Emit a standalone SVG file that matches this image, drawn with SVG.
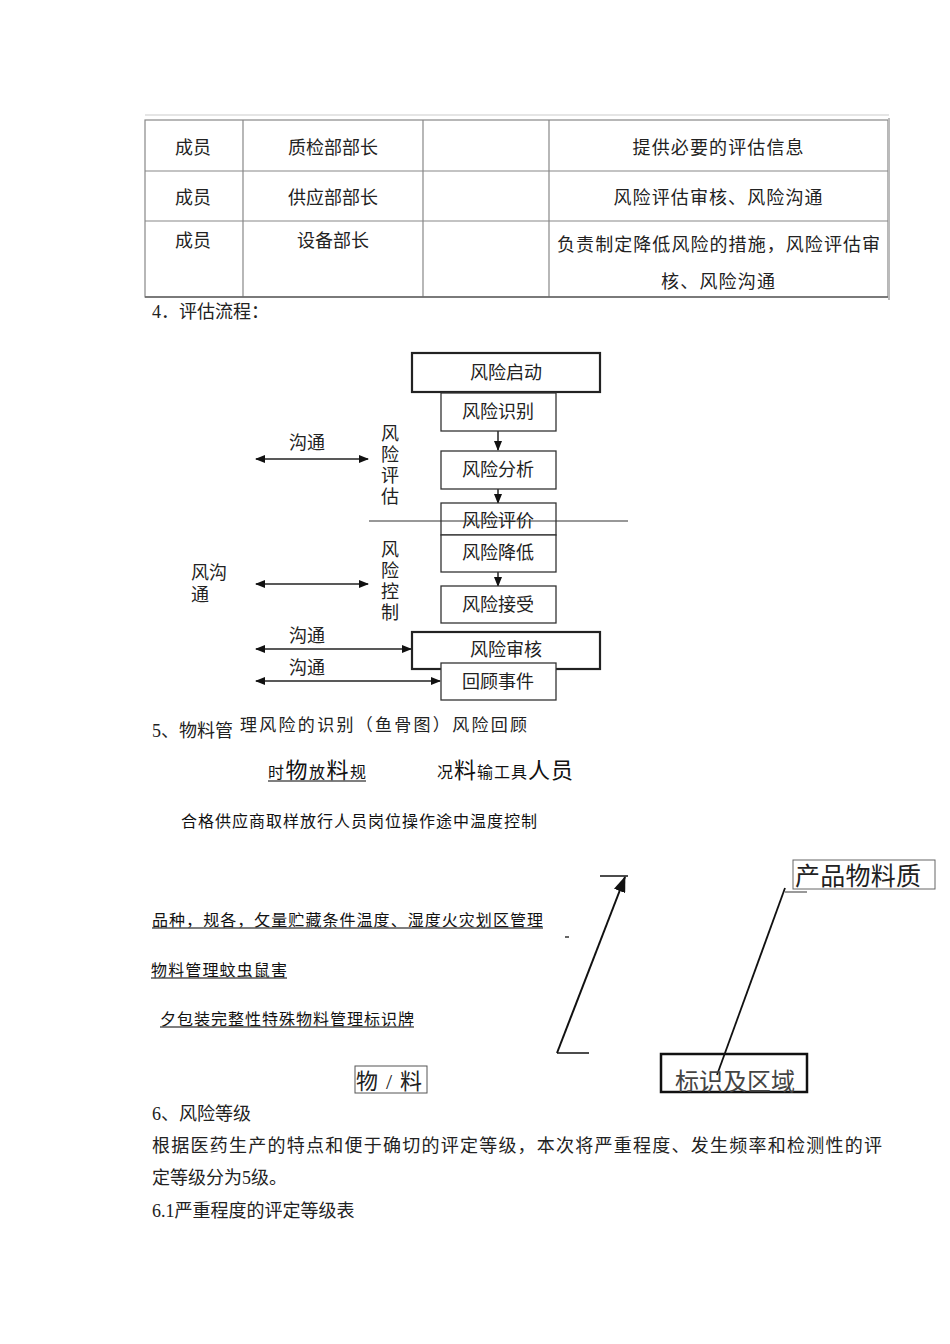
<svg xmlns="http://www.w3.org/2000/svg" width="950" height="1344" viewBox="0 0 950 1344">
<style>
.t{font-family:"Liberation Serif","Noto Sans CJK SC",sans-serif;font-size:18px;fill:#222}
.s{font-family:"Liberation Sans","Noto Sans CJK SC",sans-serif;fill:#111}
.c{text-anchor:middle}
.box{fill:#fff;stroke:#333;stroke-width:1.3}
.tbox{fill:#fff;stroke:#222;stroke-width:2.2}
.grid{stroke:#888;stroke-width:1.2;fill:none}
.ln{stroke:#222;stroke-width:1.5;fill:none}
.ul{stroke:#555;stroke-width:1.3}
</style>
<defs>
<marker id="ah" markerWidth="10" markerHeight="8" refX="9" refY="4" orient="auto" markerUnits="userSpaceOnUse">
<path d="M0,0 L10,4 L0,8 z" fill="#111"/>
</marker>
<marker id="ahs" markerWidth="10" markerHeight="8" refX="1" refY="4" orient="auto" markerUnits="userSpaceOnUse">
<path d="M10,0 L0,4 L10,8 z" fill="#111"/>
</marker>
<marker id="ahb" markerWidth="16" markerHeight="12" refX="15" refY="6" orient="auto" markerUnits="userSpaceOnUse">
<path d="M0,0 L16,6 L0,12 z" fill="#111"/>
</marker>
</defs>
<rect width="950" height="1344" fill="#fff"/>

<!-- Table -->
<g id="table">
<line x1="145" y1="115" x2="889" y2="115" stroke="#ddd" stroke-width="1.5"/>
<rect x="145" y="120" width="743" height="177" class="grid"/>
<line x1="889" y1="118" x2="889" y2="300" stroke="#bbb" stroke-width="2"/>
<line x1="145" y1="171" x2="888" y2="171" class="grid"/>
<line x1="145" y1="221" x2="888" y2="221" class="grid"/>
<line x1="243" y1="120" x2="243" y2="297" class="grid"/>
<line x1="423" y1="120" x2="423" y2="297" class="grid"/>
<line x1="549" y1="120" x2="549" y2="297" class="grid"/>
<line x1="145" y1="297" x2="888" y2="297" stroke="#666" stroke-width="1.5"/>
<text class="t c" x="193" y="154">成员</text>
<text class="t c" x="333" y="154">质检部部长</text>
<text class="t c" x="718" y="154" textLength="171">提供必要的评估信息</text>
<text class="t c" x="193" y="204">成员</text>
<text class="t c" x="333" y="204">供应部部长</text>
<text class="t c" x="718" y="204" textLength="209">风险评估审核、风险沟通</text>
<text class="t c" x="193" y="247">成员</text>
<text class="t c" x="333" y="247">设备部长</text>
<text class="t" x="557" y="251" textLength="323">负责制定降低风险的措施，风险评估审</text>
<text class="t c" x="718" y="288" textLength="114">核、风险沟通</text>
</g>

<text class="t" x="152" y="318">4．评估流程：</text>

<!-- Flowchart connectors -->
<g id="connectors">
<line x1="498" y1="431" x2="498" y2="450" class="ln" marker-end="url(#ah)"/>
<line x1="498" y1="489" x2="498" y2="503" class="ln" marker-end="url(#ah)"/>
<line x1="498" y1="572" x2="498" y2="586" class="ln" marker-end="url(#ah)"/>
<line x1="256" y1="459" x2="368" y2="459" class="ln" marker-start="url(#ahs)" marker-end="url(#ah)"/>
<line x1="256" y1="584" x2="368" y2="584" class="ln" marker-start="url(#ahs)" marker-end="url(#ah)"/>
<line x1="256" y1="649" x2="411" y2="649" class="ln" marker-start="url(#ahs)" marker-end="url(#ah)"/>
<line x1="256" y1="681" x2="440" y2="681" class="ln" marker-start="url(#ahs)" marker-end="url(#ah)"/>
</g>

<g id="n-start"><rect x="412" y="353" width="188" height="39" class="tbox"/><text class="t c" x="506" y="379">风险启动</text></g>
<g id="n-identify"><rect x="441" y="393" width="115" height="38" class="box"/><text class="t c" x="498" y="418">风险识别</text></g>
<g id="n-analyze"><rect x="441" y="451" width="115" height="38" class="box"/><text class="t c" x="498" y="476">风险分析</text></g>
<g id="n-evaluate"><rect x="441" y="503" width="115" height="32" class="box"/><text class="t c" x="498" y="527">风险评价</text></g>
<line x1="369" y1="521" x2="628" y2="521" stroke="#333" stroke-width="1.2"/>
<g id="n-reduce"><rect x="441" y="535" width="115" height="37" class="box"/><text class="t c" x="498" y="559">风险降低</text></g>
<g id="n-accept"><rect x="441" y="586" width="115" height="37" class="box"/><text class="t c" x="498" y="611">风险接受</text></g>
<g id="n-review"><rect x="412" y="632" width="188" height="37" class="tbox"/><text class="t c" x="506" y="656">风险审核</text></g>
<g id="n-event"><rect x="441" y="663" width="115" height="37" class="box"/><text class="t c" x="498" y="688">回顾事件</text></g>

<g id="labels-left">
<text class="t c" x="307" y="449">沟通</text>
<text class="t c" x="390" y="440">风</text>
<text class="t c" x="390" y="461">险</text>
<text class="t c" x="390" y="482">评</text>
<text class="t c" x="390" y="503">估</text>
<text class="t" x="191" y="579">风沟</text>
<text class="t" x="191" y="601">通</text>
<text class="t c" x="390" y="556">风</text>
<text class="t c" x="390" y="577">险</text>
<text class="t c" x="390" y="598">控</text>
<text class="t c" x="390" y="619">制</text>
<text class="t c" x="307" y="642">沟通</text>
<text class="t c" x="307" y="674">沟通</text>
</g>

<!-- Fishbone section -->
<text class="t" x="152" y="737">5、物料管</text>
<text class="t" x="240" y="731" style="font-size:17px" textLength="287">理风险的识别（鱼骨图）风险回顾</text>

<g id="fish-top">
<text class="s" x="268" y="778" style="font-size:16px" textLength="98">时<tspan style="font-size:22px">物</tspan>放<tspan style="font-size:22px">料</tspan>规</text>
<line x1="268" y1="781" x2="366" y2="781" class="ul"/>
<text class="s" x="437" y="778" style="font-size:16px" textLength="136">况<tspan style="font-size:22px">料</tspan>输工具<tspan style="font-size:22px">人员</tspan></text>
<text class="s" x="181" y="827" style="font-size:16px" textLength="356">合格供应商取样放行人员岗位操作途中温度控制</text>
</g>

<g id="fish-mid">
<text class="s" x="152" y="926" style="font-size:16px" textLength="391">品种，规各，攵量贮藏条件温度、湿度火灾划区管理</text>
<line x1="152" y1="928" x2="543" y2="928" class="ul"/>
<text class="s" x="151" y="976" style="font-size:16px" textLength="136">物料管理蚊虫鼠害</text>
<line x1="151" y1="978" x2="287" y2="978" class="ul"/>
<text class="s" x="160" y="1025" style="font-size:16px" textLength="254">夕包装完整性特殊物料管理标识牌</text>
<line x1="160" y1="1027" x2="414" y2="1027" class="ul"/>
<line x1="565" y1="937" x2="569" y2="937" stroke="#333" stroke-width="1.5"/>
</g>

<g id="fish-arrows">
<line x1="557" y1="1053" x2="625" y2="877" stroke="#111" stroke-width="2" marker-end="url(#ahb)"/>
<line x1="600" y1="876" x2="628" y2="876" stroke="#111" stroke-width="1.5"/>
<line x1="557" y1="1053" x2="589" y2="1053" stroke="#111" stroke-width="1.5"/>
<line x1="717" y1="1075" x2="785" y2="888" stroke="#111" stroke-width="1.8"/>
<line x1="785" y1="892" x2="807" y2="892" stroke="#777" stroke-width="1.5"/>
</g>

<g id="n-material"><rect x="355" y="1066" width="72" height="27" fill="#fff" stroke="#555" stroke-width="1"/><text class="t" x="356" y="1089" style="font-size:22px" textLength="66">物/料</text></g>
<g id="n-label"><rect x="661" y="1054" width="146" height="38" fill="none" stroke="#111" stroke-width="2.5"/><text class="t" x="675" y="1090" style="font-size:24px;fill:#444" textLength="120">标识及区域</text></g>
<g id="n-quality"><rect x="793" y="860" width="142" height="29" fill="#fff" stroke="#666" stroke-width="1"/><text class="t" x="795" y="885" style="font-size:25px" textLength="126">产品物料质</text></g>

<!-- Section 6 -->
<text class="t" x="152" y="1120">6、风险等级</text>
<text class="t" x="152" y="1152" textLength="730">根据医药生产的特点和便于确切的评定等级，本次将严重程度、发生频率和检测性的评</text>
<text class="t" x="152" y="1184">定等级分为5级。</text>
<text class="t" x="152" y="1217">6.1严重程度的评定等级表</text>
</svg>
